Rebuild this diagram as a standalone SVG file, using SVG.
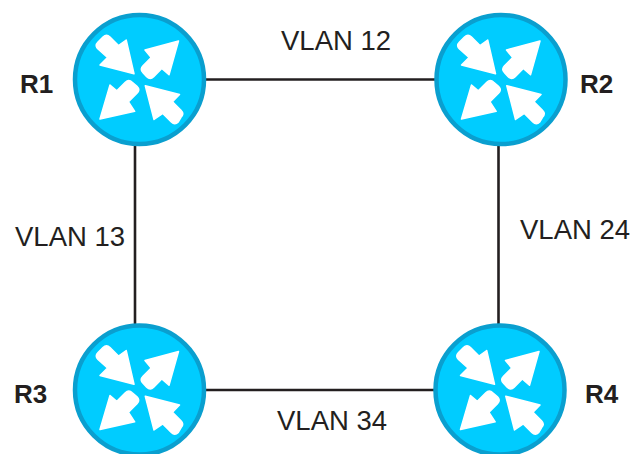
<svg xmlns="http://www.w3.org/2000/svg" width="632" height="454" viewBox="0 0 632 454">
<style>
.d{fill:#00ccff;stroke:#0a9fcf;stroke-width:4.5}
.a{fill:#fff;stroke:#fff;stroke-width:1.5;stroke-linejoin:round}
.c{stroke:#231f20;stroke-width:2.6;fill:none}
.l{font-family:"Liberation Sans",Arial,sans-serif;font-size:27.500px;fill:#231f20}
.n{font-family:"Liberation Sans",Arial,sans-serif;font-size:26px;font-weight:700;fill:#231f20}
</style>
<defs>
<g id="router">
<circle class="d" r="64.5"/>
<path class="a" d="M-5.500-5.800L-13.300-39.500-21-34-29.500-42.500Q-33-46-36.500-42.500L-41.500-37.500Q-45-34-41.500-30.500L-32-22-39.500-14.500Z"/>
<path class="a" d="M39-38.500L5.500-29.500 11.700-22 3.500-13.800Q0-10.300 3.500-6.800L7.200-2.800Q10.700 .7 14.200-2.800L22.300-11 29.500-4.800Z"/>
<path class="a" d="M-39.500 39.500L-29.500 5.500-22.700 11.300-14.200 2.800Q-10.700-.7-7.200 2.800L-2.500 6.800Q1 10.300-2.500 13.800L-11 22.300-4.800 31.800Z"/>
<path class="a" d="M5.800 6.200L40 15 33 22.300 41.500 30.800Q45 34.300 41.500 37.800L38.800 42.500Q35.300 46 31.800 42.500L23.300 34 14.500 40Z"/>
</g>
</defs>
<g id="connectors">
<line class="c" x1="205" y1="79.500" x2="435" y2="79.500"/>
<line class="c" x1="135" y1="145" x2="135" y2="325"/>
<line class="c" x1="498.500" y1="145" x2="498.500" y2="325"/>
<line class="c" x1="205" y1="390" x2="435" y2="390"/>
</g>
<g id="R1"><use href="#router" x="139.500" y="79.500"/><text class="n" x="20" y="93">R1</text></g>
<g id="R2"><use href="#router" x="501" y="79.500"/><text class="n" x="580" y="93">R2</text></g>
<g id="R3"><use href="#router" x="139.500" y="390"/><text class="n" x="14" y="403">R3</text></g>
<g id="R4"><use href="#router" x="500" y="390"/><text class="n" x="585" y="403">R4</text></g>
<g id="labels">
<text class="l" x="281" y="50">VLAN 12</text>
<text class="l" x="15" y="246">VLAN 13</text>
<text class="l" x="520" y="239">VLAN 24</text>
<text class="l" x="277" y="430">VLAN 34</text>
</g>
</svg>
